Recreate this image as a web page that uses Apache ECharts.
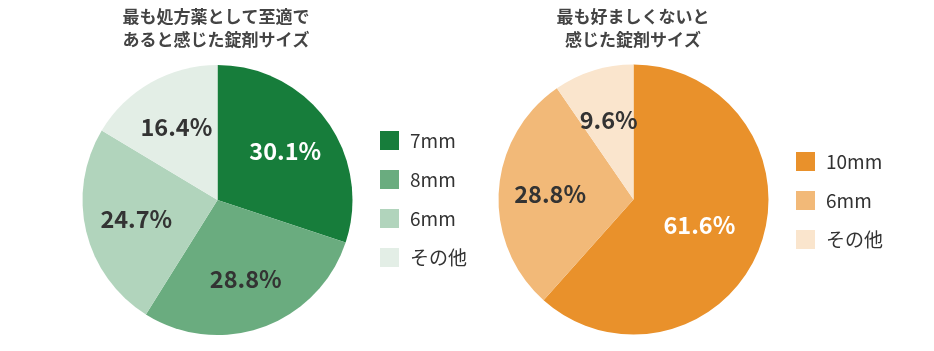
<!DOCTYPE html>
<html>
<head>
<meta charset="utf-8">
<script src="https://cdn.jsdelivr.net/npm/echarts@6/dist/echarts.min.js"></script>
<style>
  html, body { margin: 0; padding: 0; background: #fff; }
  #chart { width: 934px; height: 351px; }
</style>
</head>
<body>
<div id="chart"></div>
<script>
// 左: 最も処方薬として至適であると感じた錠剤サイズ
const bestNames = ['7mm', '8mm', '6mm', 'その他']
const bestValues = [30.1, 28.8, 24.7, 16.4]
const bestColors = ['#177d3b', '#6aac7f', '#b1d4bc', '#e3eee6']
const bestLabelColors = ['#fff', '#333', '#333', '#333']

// 右: 最も好ましくないと感じた錠剤サイズ
const worstNames = ['10mm', '6mm', 'その他']
const worstValues = [61.6, 28.8, 9.6]
const worstColors = ['#e9912b', '#f2b978', '#fae5cd']
const worstLabelColors = ['#fff', '#333', '#333']

const FONT = '"Noto Sans CJK JP", "Noto Sans", sans-serif'
const R = 135
const LABEL_R0 = 26

const labelStyle = {
  position: 'inside',
  fontFamily: FONT,
  fontSize: 23.5,
  fontWeight: 'bold',
  formatter: p => p.value.toFixed(1) + '%'
}

// 半分以上の大きい扇形はラベルを中心寄り（本体の系列）に出す
function isBig (v) {
  return v > 50
}

function pieData (names, values, colors, labelColors) {
  return names.map((n, i) => {
    return {
      name: n,
      value: values[i],
      itemStyle: { color: colors[i] },
      label: { show: isBig(values[i]), color: labelColors[i] }
    }
  })
}

// ラベルだけの重ね系列（少し外側に表示するため）
function labelData (names, values, labelColors) {
  return names.map((n, i) => {
    return {
      name: n,
      value: values[i],
      label: { show: !isBig(values[i]), color: labelColors[i] }
    }
  })
}

function legendData (names, colors) {
  return names.map((n, i) => {
    return { name: n, itemStyle: { color: colors[i] } }
  })
}

function makeSeries (center, names, values, colors, labelColors) {
  return [{
    type: 'pie',
    center: center,
    radius: [0, R],
    startAngle: 90,
    clockwise: true,
    silent: true,
    label: labelStyle,
    labelLine: { show: false },
    data: pieData(names, values, colors, labelColors)
  }, {
    type: 'pie',
    center: center,
    radius: [LABEL_R0, R],
    startAngle: 90,
    clockwise: true,
    silent: true,
    itemStyle: { color: 'rgba(0,0,0,0)' },
    label: labelStyle,
    labelLine: { show: false },
    data: labelData(names, values, labelColors)
  }]
}

const legendCommon = {
  orient: 'vertical',
  icon: 'rect',
  itemWidth: 19,
  itemHeight: 19,
  itemGap: 20,
  selectedMode: false,
  padding: 0,
  textStyle: { fontFamily: FONT, fontSize: 19, color: '#333', padding: [0, 0, 0, 6] }
}

const titleCommon = {
  textAlign: 'center',
  padding: 0,
  top: 5,
  textStyle: { fontFamily: FONT, fontSize: 17, fontWeight: 'bold', color: '#444', lineHeight: 23 }
}

const myChart = echarts.init(document.getElementById('chart'), null, { renderer: 'canvas' })
const option = {
  animation: false,
  backgroundColor: '#fff',
  title: [
    Object.assign({}, titleCommon, { left: 216, text: '最も処方薬として至適で\nあると感じた錠剤サイズ' }),
    Object.assign({}, titleCommon, { left: 633, text: '最も好ましくないと\n感じた錠剤サイズ' })
  ],
  legend: [
    Object.assign({}, legendCommon, { left: 380, top: 131, data: legendData(bestNames, bestColors) }),
    Object.assign({}, legendCommon, { left: 796, top: 152, data: legendData(worstNames, worstColors) })
  ],
  series: [].concat(
    makeSeries([217.5, 200], bestNames, bestValues, bestColors, bestLabelColors),
    makeSeries([633.5, 199.5], worstNames, worstValues, worstColors, worstLabelColors)
  )
}
myChart.setOption(option)
</script>
</body>
</html>
